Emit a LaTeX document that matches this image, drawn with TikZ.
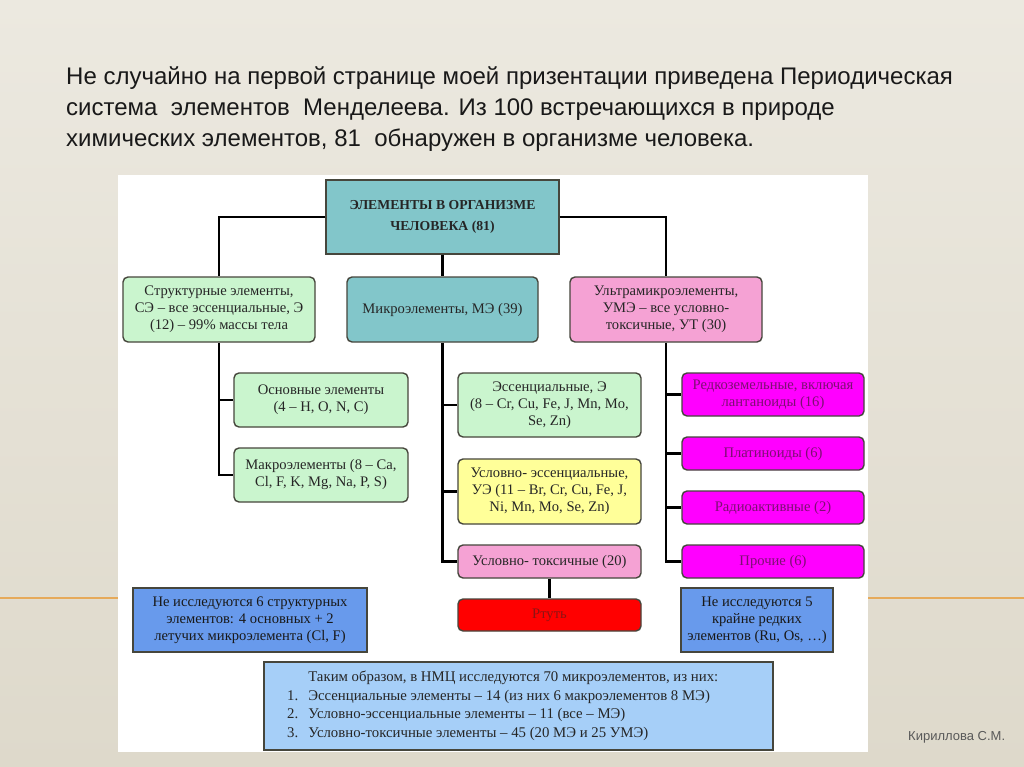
\documentclass[tikz,border=0pt]{standalone}
\usepackage{fontspec}
\setmainfont{Liberation Serif}
\newfontfamily\titlefont{Liberation Sans}
\newfontfamily\authfont{Liberation Sans}
\definecolor{bgtop}{RGB}{236,233,224}
\definecolor{bgbot}{RGB}{222,217,203}
\definecolor{tealc}{RGB}{130,198,202}
\definecolor{greenc}{RGB}{202,245,206}
\definecolor{pinkc}{RGB}{245,162,212}
\definecolor{yellowc}{RGB}{255,255,153}
\definecolor{magc}{RGB}{255,0,255}
\definecolor{magtxt}{RGB}{125,15,115}
\definecolor{redc}{RGB}{255,0,0}
\definecolor{redtxt}{RGB}{140,20,20}
\definecolor{bluec}{RGB}{104,154,236}
\definecolor{lbluec}{RGB}{166,207,248}
\definecolor{bordc}{RGB}{70,70,60}
\definecolor{orangel}{RGB}{230,170,90}
\tikzset{
  rbox/.style={draw=bordc, line width=1.4pt, rounded corners=5pt, align=center,
    inner sep=1pt, font=\fontsize{14.6}{17}\selectfont, text=black!85},
  sbox/.style={draw=bordc, line width=1.4pt, align=center,
    inner sep=1pt, font=\fontsize{14.6}{17}\selectfont, text=black!85},
  conn/.style={line width=2.3pt, black},
  ttl/.style={anchor=base west, inner sep=0pt, font=\titlefont\fontsize{24}{28}\selectfont, text=black!90}
}
\begin{document}
\begin{tikzpicture}[x=1pt,y=-1pt]
\useasboundingbox (0,0) rectangle (1024,767);
\shade[top color=bgtop, bottom color=bgbot] (0,0) rectangle (1024,767);
\draw[orangel, line width=1.5pt] (0,598) -- (1024,598);
\fill[white] (118,175) rectangle (868,752);

\node[ttl] (t1) at (66,85) {Не случайно на первой странице моей призентации приведена Периодическая};
\node[ttl] (t2) at (66,116) {система\ \ элементов\ \ Менделеева. Из 100 встречающихся в природе};
\node[ttl] (t3) at (66,147) {химических элементов, 81\ \ обнаружен в организме человека.};
\node[anchor=base west, inner sep=0pt, font=\authfont\fontsize{13}{15}\selectfont, text=black!65] (auth) at (908,740) {Кириллова С.М.};

% level 0
\node[sbox, fill=tealc, minimum width=233pt, minimum height=74pt, font=\bfseries\fontsize{13.7}{21.5}\selectfont] (top) at (442.5,217) {ЭЛЕМЕНТЫ В ОРГАНИЗМЕ\\ЧЕЛОВЕКА (81)};
% level 1
\node[rbox, fill=greenc, minimum width=192pt, minimum height=65pt] (struct) at (219,309.5) {Структурные элементы,\\СЭ – все эссенциальные, Э\\(12) – 99\% массы тела};
\node[rbox, fill=tealc, minimum width=191pt, minimum height=65pt] (micro) at (442.5,309.5) {Микроэлементы, МЭ (39)};
\node[rbox, fill=pinkc, minimum width=192pt, minimum height=65pt] (ultra) at (666,309.5) {Ультрамикроэлементы,\\УМЭ – все условно-\\токсичные, УТ (30)};
% left column
\node[rbox, fill=greenc, minimum width=174pt, minimum height=54pt] (osn) at (321,400) {Основные элементы\\(4 – H, O, N, C)};
\node[rbox, fill=greenc, minimum width=174pt, minimum height=54pt] (makro) at (321,475) {Макроэлементы (8 – Ca,\\Cl, F, K, Mg, Na, P, S)};
% middle column
\node[rbox, fill=greenc, minimum width=183pt, minimum height=64pt] (ess) at (549.5,405) {Эссенциальные, Э\\(8 – Cr, Cu, Fe, J, Mn, Mo,\\Se, Zn)};
\node[rbox, fill=yellowc, minimum width=183pt, minimum height=65pt] (ue) at (549.5,491.5) {Условно- эссенциальные,\\УЭ (11 – Br, Cr, Cu, Fe, J,\\Ni, Mn, Mo, Se, Zn)};
\node[rbox, fill=pinkc, minimum width=183pt, minimum height=33pt] (ut) at (549.5,561.5) {Условно- токсичные (20)};
\node[rbox, fill=redc, text=redtxt, minimum width=183pt, minimum height=32pt] (hg) at (549.5,615) {Ртуть};
% right column
\node[rbox, fill=magc, text=magtxt, minimum width=182pt, minimum height=43pt] (rz) at (773,394.5) {Редкоземельные, включая\\лантаноиды (16)};
\node[rbox, fill=magc, text=magtxt, minimum width=182pt, minimum height=33pt] (pt) at (773,453.5) {Платиноиды (6)};
\node[rbox, fill=magc, text=magtxt, minimum width=182pt, minimum height=33pt] (ra) at (773,507.5) {Радиоактивные (2)};
\node[rbox, fill=magc, text=magtxt, minimum width=182pt, minimum height=33pt] (pr) at (773,561.5) {Прочие (6)};
% notes
\node[sbox, fill=bluec, text=black!90, minimum width=234pt, minimum height=64pt] (nb1) at (250,620) {Не исследуются 6 структурных\\элементов: 4 основных + 2\\летучих микроэлемента (Cl, F)};
\node[sbox, fill=bluec, text=black!90, minimum width=152pt, minimum height=64pt] (nb2) at (757,620) {Не исследуются 5\\крайне редких\\элементов (Ru, Os, …)};
\node[sbox, fill=lbluec, minimum width=509pt, minimum height=88pt] (bot) at (518.5,706) {};
\node[anchor=west, inner sep=0pt, font=\fontsize{14.8}{18.5}\selectfont, text=black!85] (bottxt) at (287,706) {%
\begin{tabular}{@{}r@{\hspace{10pt}}l@{}}
 & Таким образом, в НМЦ исследуются 70 микроэлементов, из них:\\
1. & Эссенциальные элементы – 14 (из них 6 макроэлементов 8 МЭ)\\
2. & Условно-эссенциальные элементы – 11 (все – МЭ)\\
3. & Условно-токсичные элементы – 45 (20 МЭ и 25 УМЭ)
\end{tabular}};

% connectors
\draw[conn] (top.west) -| (struct.north);
\draw[conn] (top.east) -| (ultra.north);
\draw[conn] (top.south) -- (micro.north);
\draw[conn] (struct.south) |- (makro.west);
\draw[conn] (struct.south |- osn.west) -- (osn.west);
\draw[conn] (micro.south) |- (ut.west);
\draw[conn] (micro.south |- ess.west) -- (ess.west);
\draw[conn] (micro.south |- ue.west) -- (ue.west);
\draw[conn] (ut.south) -- (hg.north);
\draw[conn] (ultra.south) |- (pr.west);
\draw[conn] (ultra.south |- rz.west) -- (rz.west);
\draw[conn] (ultra.south |- pt.west) -- (pt.west);
\draw[conn] (ultra.south |- ra.west) -- (ra.west);
\end{tikzpicture}
\end{document}
